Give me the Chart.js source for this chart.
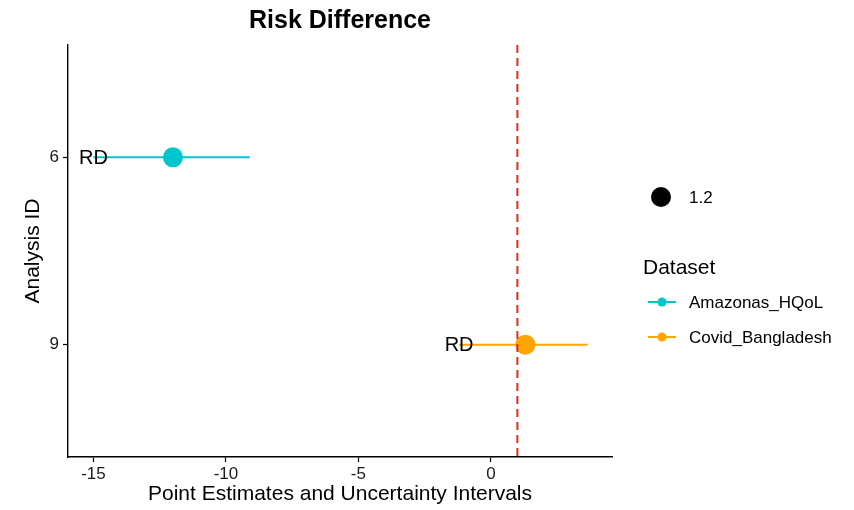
<!DOCTYPE html>
<html>
<head>
<meta charset="utf-8">
<script src="https://cdn.jsdelivr.net/npm/chart.js@4"></script>
<style>
  body { margin: 0; background: #fff; }
  #wrap { width: 854px; height: 510px; position: relative; }
</style>
</head>
<body>
<div id="wrap"><canvas id="forest" width="854" height="510"></canvas></div>
<script>
// data
const datasetNames = ['Amazonas_HQoL', 'Covid_Bangladesh'];
const analysisIds = ['6', '9'];
const estimates = [-12.0, 1.3];
const lowerCI = [-15.0, -1.2];
const upperCI = [-9.1, 3.65];
const pointLabel = ['RD', 'RD'];
const refValue = 1;
const xTicks = [-15, -10, -5, 0];
const sizeLegend = '1.2';

const colors = ['#00C5CD', '#FFA500'];
const font = "'Liberation Sans', Arial, sans-serif";

// one line per interval
const intervalSets = datasetNames.map((name, i) => ({
  type: 'line',
  label: name,
  data: [{ x: lowerCI[i], y: i + 1 }, { x: upperCI[i], y: i + 1 }],
  borderColor: colors[i],
  borderWidth: 2,
  pointRadius: 0,
  order: 2
}));

const pointSet = {
  type: 'scatter',
  label: 'points',
  data: estimates.map((v, i) => ({ x: v, y: i + 1 })),
  backgroundColor: colors,
  borderWidth: 0,
  pointRadius: 10,
  order: 1
};

const refSet = {
  type: 'line',
  label: 'ref',
  data: [{ x: refValue, y: 0.4 }, { x: refValue, y: 2.6 }],
  borderColor: '#D7301F',
  borderWidth: 2,
  borderDash: [8, 5],
  pointRadius: 0,
  order: 0
};

// title, RD labels and the legend on the right
const extras = {
  id: 'extras',
  afterDatasetsDraw(chart) {
    const ctx = chart.ctx;
    const xs = chart.scales.x, ys = chart.scales.y;
    ctx.save();
    ctx.fillStyle = '#000';
    ctx.textAlign = 'center';
    ctx.textBaseline = 'middle';
    ctx.font = '20px ' + font;
    lowerCI.forEach((lo, i) => {
      ctx.fillText(pointLabel[i], xs.getPixelForValue(lo), ys.getPixelForValue(i + 1) + 1);
    });

    ctx.font = 'bold 25px ' + font;
    ctx.fillText('Risk Difference', (chart.chartArea.left + chart.chartArea.right) / 2, 21);

    // size legend
    ctx.beginPath();
    ctx.arc(661, 197, 10, 0, Math.PI * 2);
    ctx.fill();
    ctx.textAlign = 'left';
    ctx.font = '17px ' + font;
    ctx.fillText(sizeLegend, 689, 198);

    // colour legend
    ctx.font = '21px ' + font;
    ctx.fillText('Dataset', 643, 268);
    ctx.font = '17px ' + font;
    datasetNames.forEach((name, i) => {
      const y = 302 + i * 35;
      ctx.strokeStyle = colors[i];
      ctx.fillStyle = colors[i];
      ctx.lineWidth = 2;
      ctx.beginPath();
      ctx.moveTo(648, y);
      ctx.lineTo(676, y);
      ctx.stroke();
      ctx.beginPath();
      ctx.arc(662, y, 4.5, 0, Math.PI * 2);
      ctx.fill();
      ctx.fillStyle = '#000';
      ctx.fillText(name, 689, y + 1);
    });
    ctx.restore();
  }
};

new Chart(document.getElementById('forest'), {
  data: { datasets: [refSet, pointSet, ...intervalSets] },
  options: {
    responsive: false,
    animation: false,
    layout: { padding: { top: 45, right: 242, bottom: 0, left: 0 } },
    plugins: { legend: { display: false }, tooltip: { enabled: false }, title: { display: false } },
    scales: {
      x: {
        type: 'linear',
        min: -15.96,
        max: 4.57,
        afterBuildTicks: s => { s.ticks = xTicks.map(v => ({ value: v })); },
        afterFit: s => { s.height = 53; },
        grid: { drawOnChartArea: false, tickLength: 5, tickColor: '#000', tickWidth: 1.2 },
        border: { color: '#000', width: 1.4 },
        ticks: { color: '#1a1a1a', font: { family: font, size: 17 }, padding: 2 },
        title: { display: true, text: 'Point Estimates and Uncertainty Intervals', color: '#000',
                 font: { family: font, size: 21 }, padding: { top: 0, bottom: 3 } }
      },
      y: {
        type: 'linear',
        min: 0.4,
        max: 2.6,
        reverse: true,
        afterBuildTicks: s => { s.ticks = analysisIds.map((id, i) => ({ value: i + 1 })); },
        afterFit: s => { s.width = 68; },
        grid: { drawOnChartArea: false, tickLength: 5, tickColor: '#000', tickWidth: 1.2 },
        border: { color: '#000', width: 1.4 },
        ticks: { color: '#1a1a1a', font: { family: font, size: 17 }, padding: 4,
                 callback: v => analysisIds[v - 1] },
        title: { display: true, text: 'Analysis ID', color: '#000',
                 font: { family: font, size: 21 }, padding: { top: 21, bottom: 0 } }
      }
    }
  },
  plugins: [extras]
});
</script>
</body>
</html>
